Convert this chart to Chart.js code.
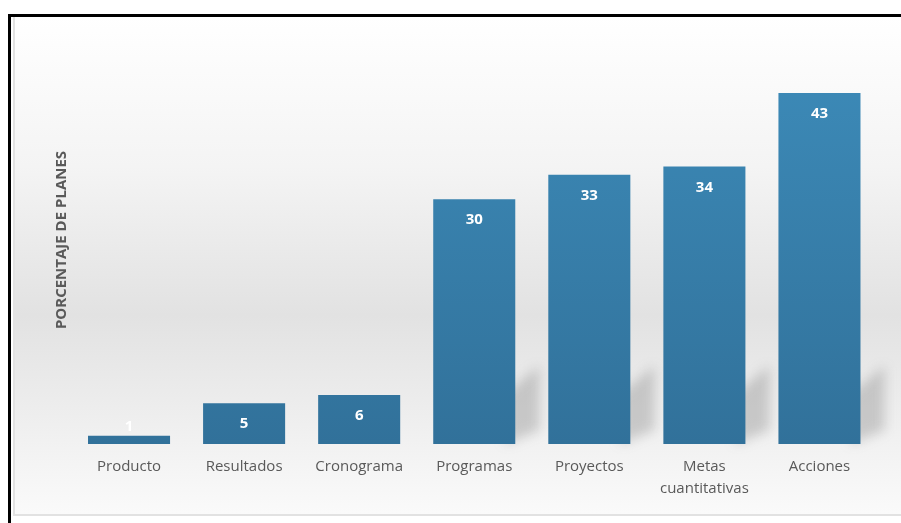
<!DOCTYPE html>
<html>
<head>
<meta charset="utf-8">
<script src="https://cdn.jsdelivr.net/npm/chart.js@4"></script>
<style>
  html, body { margin: 0; padding: 0; background: #fff; }
  #wrap { width: 901px; height: 523px; }
</style>
</head>
<body>
<div id="wrap"><canvas id="myChart" width="901" height="523"></canvas></div>
<script>
// data
const categories = ["Producto", "Resultados", "Cronograma", "Programas", "Proyectos", ["Metas", "cuantitativas"], "Acciones"];
const values = [1, 5, 6, 30, 33, 34, 43];
const axisTitle = "PORCENTAJE DE PLANES";

const textGray = "#595959";

// background + frame
const framePlugin = {
  id: "frame",
  beforeDraw(chart) {
    const ctx = chart.ctx;
    ctx.save();
    ctx.fillStyle = "#fff";
    ctx.fillRect(0, 0, chart.width, chart.height);
    let g = ctx.createLinearGradient(0, 17, 0, 514);
    g.addColorStop(0, "#ffffff");
    g.addColorStop(0.3, "#f4f4f4");
    g.addColorStop(0.6, "#e2e2e2");
    g.addColorStop(0.82, "#efefef");
    g.addColorStop(1, "#fafafa");
    ctx.fillStyle = g;
    ctx.fillRect(13, 17, chart.width - 13, 497);
    ctx.strokeStyle = "#e2e2e2";
    ctx.lineWidth = 2;
    ctx.beginPath();
    ctx.moveTo(14, 17);
    ctx.lineTo(14, 515);
    ctx.lineTo(chart.width, 515);
    ctx.stroke();
    ctx.restore();
  },
  afterDraw(chart) {
    const ctx = chart.ctx;
    ctx.save();
    ctx.strokeStyle = "#000";
    ctx.lineWidth = 3;
    ctx.beginPath();
    ctx.moveTo(9.5, chart.height);
    ctx.lineTo(9.5, 15.5);
    ctx.lineTo(chart.width, 15.5);
    ctx.stroke();
    ctx.restore();
  }
};

// soft shadow behind the taller bars
const shadowPlugin = {
  id: "shadows",
  beforeDatasetsDraw(chart) {
    const ctx = chart.ctx;
    const meta = chart.getDatasetMeta(0);
    ctx.save();
    ctx.filter = "blur(6px)";
    ctx.fillStyle = "rgba(100,100,100,0.28)";
    meta.data.forEach((bar) => {
      if (bar.base - bar.y < 60) return;
      const r = bar.x + bar.width / 2;
      ctx.beginPath();
      ctx.moveTo(r - 10, bar.base);
      ctx.lineTo(r - 10, bar.base - 50);
      ctx.lineTo(r + 24, bar.base - 78);
      ctx.lineTo(r + 24, bar.base - 14);
      ctx.closePath();
      ctx.fill();
    });
    ctx.restore();
  }
};

// value labels inside the bars
const labelPlugin = {
  id: "valueLabels",
  afterDatasetsDraw(chart) {
    const ctx = chart.ctx;
    const meta = chart.getDatasetMeta(0);
    ctx.save();
    ctx.font = "bold 15px 'Open Sans'";
    ctx.fillStyle = "#ffffff";
    ctx.textAlign = "center";
    ctx.textBaseline = "middle";
    meta.data.forEach((bar, i) => {
      const y = Math.min(bar.y + 21, bar.base - 17);
      ctx.fillText(values[i], bar.x, y);
    });
    ctx.restore();
  }
};

new Chart("myChart", {
  type: "bar",
  data: {
    labels: categories,
    datasets: [
      {
        data: values,
        backgroundColor: (c) => {
          const area = c.chart.chartArea;
          if (!area) return "#3580ac";
          const g = c.chart.ctx.createLinearGradient(0, area.top, 0, area.bottom);
          g.addColorStop(0, "#3d8cba");
          g.addColorStop(1, "#31719a");
          return g;
        },
        borderWidth: 0,
        barPercentage: 1,
        categoryPercentage: 0.713,
      },
    ],
  },
  options: {
    responsive: false,
    animation: false,
    layout: { padding: { left: 10, right: 24, top: 36, bottom: 0 } },
    plugins: {
      legend: { display: false },
      tooltip: { enabled: false },
    },
    scales: {
      x: {
        grid: { display: false, drawTicks: false },
        border: { display: false },
        ticks: {
          color: textGray,
          font: { family: "'Open Sans'", size: 15, lineHeight: 1.45 },
          padding: 12,
          maxRotation: 0,
          autoSkip: false,
        },
        afterFit: (axis) => { axis.height = 79; },
      },
      y: {
        min: 0,
        max: 50,
        grid: { display: false },
        border: { display: false },
        ticks: { display: false },
        title: {
          display: true,
          text: axisTitle,
          color: textGray,
          font: { family: "'Open Sans'", size: 15, weight: "bold" },
          padding: { top: 43, bottom: 0 },
        },
        afterFit: (axis) => { axis.width = 61.5; },
      },
    },
  },
  plugins: [framePlugin, shadowPlugin, labelPlugin],
});
</script>
</body>
</html>
